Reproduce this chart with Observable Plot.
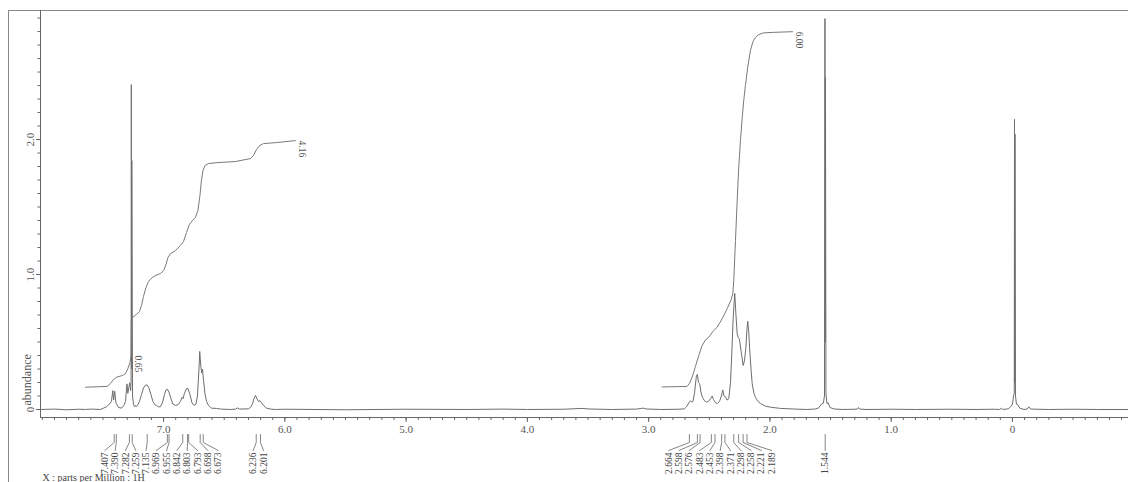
<!DOCTYPE html>
<html><head><meta charset="utf-8">
<script src="https://cdn.jsdelivr.net/npm/d3@7"></script>
<script src="https://cdn.jsdelivr.net/npm/@observablehq/plot@0.6"></script>
<style>
html,body{margin:0;padding:0;background:#fff;}
#chart{width:1128px;height:482px;overflow:hidden;}
</style></head><body><div id="chart"></div>
<script>
// ---- data ----
// spectrum trace: [ppm, abundance]
const spectrum = [
[8.015,0.0],[7.90,0.003],[7.80,-0.002],[7.70,0.002],[7.644,0.0],[7.60,0.003],[7.521,0.0],
[7.496,0.01],[7.471,0.02],[7.446,0.04],[7.430,0.06],[7.419,0.14],[7.412,0.07],[7.403,0.135],[7.393,0.05],
[7.372,0.015],[7.347,0.01],[7.327,0.03],[7.314,0.06],[7.306,0.15],[7.302,0.19],[7.295,0.12],[7.287,0.16],
[7.279,0.20],[7.272,0.14],[7.268,0.2],[7.266,2.407],[7.264,0.3],[7.262,1.844],[7.256,0.1],[7.248,0.04],
[7.240,0.02],[7.232,0.03],[7.224,0.02],[7.215,0.03],[7.199,0.06],[7.182,0.11],[7.166,0.16],[7.149,0.18],
[7.135,0.182],[7.121,0.16],[7.104,0.11],[7.088,0.06],[7.071,0.035],[7.059,0.03],[7.042,0.02],[7.026,0.02],
[7.009,0.05],[6.993,0.11],[6.980,0.145],[6.968,0.15],[6.956,0.13],[6.939,0.08],[6.923,0.04],[6.902,0.03],
[6.881,0.035],[6.861,0.06],[6.848,0.09],[6.840,0.08],[6.828,0.12],[6.811,0.155],[6.799,0.155],[6.782,0.11],
[6.766,0.05],[6.750,0.03],[6.733,0.04],[6.721,0.1],[6.708,0.3],[6.702,0.43],[6.693,0.32],[6.686,0.27],
[6.679,0.3],[6.671,0.22],[6.659,0.12],[6.646,0.06],[6.630,0.03],[6.605,0.01],[6.564,0.008],[6.531,0.003],
[6.45,0.0],[6.407,0.003],[6.391,0.012],[6.374,0.003],[6.30,0.005],[6.284,0.015],[6.267,0.04],[6.255,0.08],
[6.242,0.105],[6.230,0.08],[6.218,0.06],[6.205,0.065],[6.193,0.05],[6.176,0.03],[6.152,0.01],[6.119,0.003],
[6.077,0.0],[6.0,0.002],[5.5,-0.002],[5.0,0.002],[4.5,0.0],[4.2,0.003],[4.0,0.0],[3.7,0.002],[3.6,0.006],
[3.55,0.008],[3.5,0.004],[3.3,0.0],[3.1,0.003],[3.06,0.008],[3.043,0.01],[3.02,0.004],[2.9,0.0],[2.75,0.002],
[2.705,0.005],[2.688,0.02],[2.668,0.05],[2.655,0.065],[2.645,0.055],[2.635,0.06],[2.622,0.12],[2.606,0.25],
[2.598,0.26],[2.589,0.2],[2.579,0.19],[2.569,0.13],[2.556,0.09],[2.540,0.065],[2.523,0.055],[2.507,0.06],
[2.490,0.08],[2.476,0.10],[2.466,0.075],[2.449,0.05],[2.433,0.045],[2.416,0.06],[2.400,0.1],[2.389,0.145],
[2.379,0.10],[2.367,0.095],[2.354,0.07],[2.339,0.08],[2.325,0.2],[2.317,0.36],[2.303,0.68],[2.290,0.86],
[2.280,0.7],[2.270,0.56],[2.262,0.535],[2.251,0.52],[2.239,0.44],[2.229,0.38],[2.221,0.326],[2.210,0.36],
[2.199,0.45],[2.189,0.6],[2.183,0.654],[2.175,0.58],[2.167,0.45],[2.156,0.3],[2.146,0.19],[2.132,0.12],
[2.119,0.09],[2.099,0.06],[2.078,0.045],[2.037,0.025],[1.996,0.017],[1.913,0.008],[1.79,0.003],[1.70,0.0],
[1.63,0.003],[1.60,0.01],[1.575,0.04],[1.56,0.045],[1.55,0.1],[1.546,2.896],[1.544,0.5],[1.542,2.459],
[1.538,0.12],[1.53,0.045],[1.52,0.05],[1.505,0.015],[1.47,0.004],[1.40,0.0],[1.30,0.002],[1.28,0.003],
[1.27,0.015],[1.26,0.003],[1.2,0.0],[1.0,0.002],[0.8,0.0],[0.5,0.002],[0.3,0.0],[0.15,0.002],
[0.105,0.0],[0.09,0.01],[0.08,0.0],[0.035,0.005],[0.015,0.02],[0.0,0.04],[-0.009,0.1],[-0.015,0.12],
[-0.017,2.15],[-0.019,0.2],[-0.021,2.04],[-0.025,0.1],[-0.033,0.04],[-0.045,0.035],[-0.06,0.01],[-0.095,0.0],
[-0.12,0.003],[-0.135,0.02],[-0.15,0.003],[-0.3,0.0],[-0.5,0.002],[-0.7,0.0],[-0.957,0.0]
];
// integral curves: [ppm, height]
const integralAromatic = [
[7.644,0.165],[7.465,0.171],[7.438,0.193],[7.413,0.222],[7.389,0.239],[7.339,0.252],[7.314,0.265],[7.294,0.304],
[7.277,0.348],[7.268,0.40],[7.266,0.659],[7.257,0.682],[7.224,0.704],[7.199,0.726],[7.182,0.770],[7.166,0.837],
[7.145,0.904],[7.125,0.948],[7.094,0.978],[7.059,0.996],[7.026,1.007],[6.999,1.030],[6.980,1.074],[6.964,1.126],
[6.943,1.155],[6.902,1.178],[6.861,1.215],[6.836,1.244],[6.811,1.311],[6.787,1.370],[6.762,1.400],[6.737,1.424],
[6.717,1.474],[6.700,1.585],[6.688,1.696],[6.675,1.770],[6.659,1.807],[6.630,1.822],[6.558,1.829],[6.407,1.837],
[6.284,1.859],[6.259,1.881],[6.234,1.926],[6.209,1.955],[6.176,1.970],[6.077,1.977],[5.913,1.992]
];
const integralAliphatic = [
[2.889,0.167],[2.683,0.171],[2.664,0.193],[2.641,0.240],[2.614,0.319],[2.587,0.400],[2.559,0.474],[2.532,0.515],
[2.504,0.536],[2.470,0.578],[2.435,0.610],[2.394,0.672],[2.353,0.746],[2.320,0.813],[2.306,0.857],[2.298,0.956],
[2.284,1.252],[2.270,1.548],[2.257,1.795],[2.243,1.992],[2.229,2.155],[2.216,2.288],[2.202,2.400],[2.183,2.535],
[2.161,2.659],[2.140,2.725],[2.119,2.757],[2.094,2.777],[2.053,2.790],[1.971,2.794],[1.814,2.799]
];
// integral values and the ppm where each is written
const integralTexts = ["0.65", "4.16", "6.00"];
const integralAtPpm = [7.268, 5.913, 1.814];
// picked peaks
const peaksAromatic = ["7.407","7.390","7.282","7.259","7.135","6.969","6.955","6.842","6.803","6.793","6.698","6.673"];
const peaksVinyl = ["6.236","6.201"];
const peaksAliphatic = ["2.664","2.598","2.576","2.483","2.453","2.398","2.371","2.298","2.258","2.221","2.189"];
const peaksWater = ["1.544"];
// axis ticks
const xMajorTicks = [7, 6, 5, 4, 3, 2, 1, 0];
const yMajorTicks = [0, 1, 2];

// ---- layout ----
const W = 1128, H = 482, mL = 40, mR = 0, mT = 10, mB = 65;
const xDomain = [8.015, -0.957];
const yDomain = [-0.0593, 2.956];
const kY = (H - mB - mT) / (yDomain[1] - yDomain[0]);
const kX = (W - mL - mR) / (xDomain[0] - xDomain[1]);
const yAtPx = px => yDomain[0] + ((H - mB) - px) / kY;
const labelStep = 10.3 / kX;

const labels = [peaksAromatic, peaksVinyl, peaksAliphatic, peaksWater].flatMap(g => {
  const vals = g.map(Number);
  const m = d3.mean(vals);
  return g.map((t, i) => ({peak: vals[i], pos: m + ((g.length - 1) / 2 - i) * labelStep, text: t}));
});
const connectors = labels.flatMap((l, i) => [
  {id: i, x: l.peak, y: yAtPx(434)},
  {id: i, x: l.peak, y: yAtPx(442)},
  {id: i, x: l.pos, y: yAtPx(450)}
]);
const allIntegrals = [...integralAromatic, ...integralAliphatic];
const integralLabels = integralTexts.map((t, i) => {
  const p = allIntegrals.find(d => Math.abs(d[0] - integralAtPpm[i]) < 1e-6);
  return {text: t, x: p[0], y: p[1]};
});
const minorX = d3.range(-9, 81).map(d => d / 10);
const minorY = d3.range(0, 30).map(d => d / 10);
const fmt = d => d === 0 ? "0" : d.toFixed(1);
const serif = "'Liberation Serif','Times New Roman',serif";
const grey = "#6e6e6e";

const chart = Plot.plot({
  width: W, height: H,
  marginLeft: mL, marginRight: mR, marginTop: mT, marginBottom: mB,
  style: {fontFamily: serif, fontSize: "11px", color: "#555", background: "#fff", overflow: "hidden"},
  x: {domain: xDomain},
  y: {domain: yDomain},
  marks: [
    Plot.frame({insetLeft: -32, insetRight: -20, insetBottom: -120, stroke: "#888"}),
    Plot.ruleX([xDomain[0]], {stroke: "#666"}),
    Plot.ruleY([yDomain[0]], {stroke: "#666"}),
    Plot.axisX(minorX, {tickSize: 3, tickFormat: () => "", label: null, stroke: "#666"}),
    Plot.axisX(xMajorTicks, {tickSize: 5, tickPadding: 3, tickFormat: fmt, label: null, fontSize: 11, stroke: "#666", fill: "#555"}),
    Plot.axisY(minorY, {tickSize: 2.5, tickFormat: () => "", label: null, stroke: "#666"}),
    Plot.axisY(yMajorTicks, {tickSize: 4, tickPadding: 3, tickRotate: -90, tickFormat: fmt, label: null, fontSize: 11, stroke: "#666", fill: "#555"}),
    Plot.text(["abundance"], {frameAnchor: "bottom-left", dx: -13, dy: -12, rotate: -90, textAnchor: "start", lineAnchor: "middle", fontSize: 12, fill: "#555"}),
    Plot.text(["X : parts per Million : 1H"], {frameAnchor: "bottom-left", dx: 2, dy: 56, textAnchor: "start", lineAnchor: "top", fontSize: 10, fill: "#444"}),
    Plot.line(spectrum, {x: d => d[0], y: d => d[1], stroke: grey, strokeWidth: 1}),
    Plot.line(integralAromatic, {x: d => d[0], y: d => d[1], stroke: "#7a7a7a", strokeWidth: 1}),
    Plot.line(integralAliphatic, {x: d => d[0], y: d => d[1], stroke: "#7a7a7a", strokeWidth: 1}),
    Plot.text(integralLabels, {x: "x", y: "y", text: "text", rotate: 90, textAnchor: "start", dx: 7, fontSize: 9.5, fill: "#555"}),
    Plot.line(connectors, {x: "x", y: "y", z: "id", stroke: "#666", strokeWidth: 0.8}),
    Plot.text(labels, {x: "pos", y: () => yAtPx(452), text: "text", rotate: -90, textAnchor: "end", fontSize: 9.5, fill: "#444"})
  ]
});
document.getElementById("chart").appendChild(chart);
</script>
</body></html>
